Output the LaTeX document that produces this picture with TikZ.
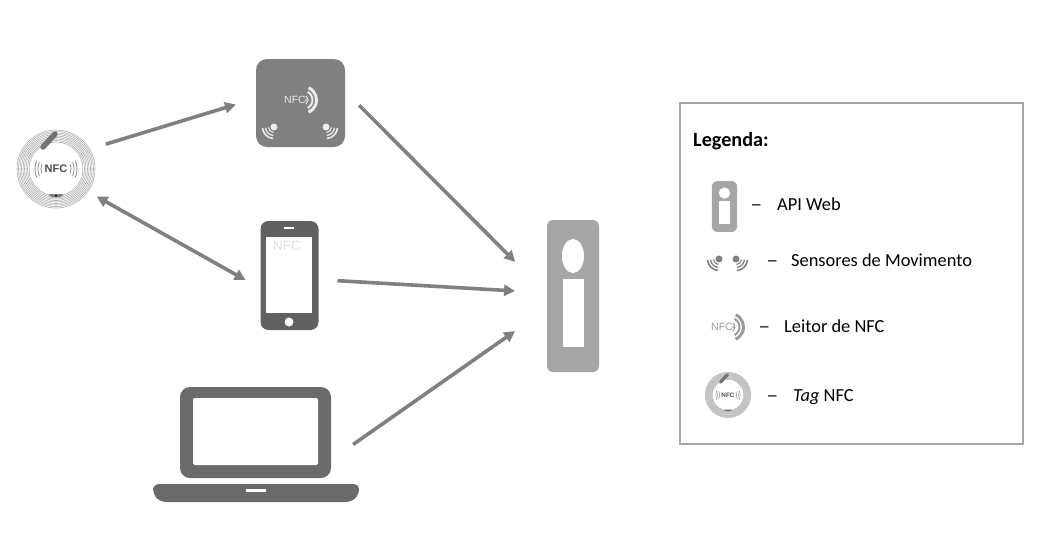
\documentclass[tikz,border=0pt]{standalone}
\usepackage{fontspec}
\setmainfont{Carlito}
\newfontfamily\iconfont{Liberation Sans}
\usetikzlibrary{arrows.meta}
\tikzset{
	pics/sensorwave/.style={code={
		\fill[#1] (0,0) circle[radius=3.5];
		\foreach \r/\w in {5.5/1.1,8.5/1.3,11.5/1.6}
			\draw[#1,line width=\w pt] (95:\r) arc (95:175:\r);
	}},
	pics/nfcreader/.style={code={
		\node[font=\iconfont\fontsize{10.5}{11}\selectfont,text=#1,inner sep=0pt,transform shape] (-word) at (-8,0) {NFC};
		\fill[#1] (3,0) circle[radius=1];
		\foreach \r/\w/\a in {5/1/55,9.5/2/60,13.5/3/65}
			\draw[#1,line width=\w pt] (-\a:\r) arc (-\a:\a:\r);
	}},
	pics/nfctag/.style={code={
		\pgfmathsetmacro{\ringshade}{(1-#1)*30}
		\draw[black!\ringshade,line width=#1*12.6pt] (0,0) circle[radius=33.3];
		\foreach \r in {27,28.5,...,39.6}
			\draw[black!32,line width=#1*0.6pt] (0,0) circle[radius=\r];
		\draw[black!55,line width=#1*5.5pt,line cap=round] (-13,-22) -- (-1,-35);
		\fill[black!50] (-7.5,25) -- (7.5,25) -- (5,28) -- (-5,28) -- cycle;
		\fill[black] (0,26.5) circle[radius=1];
		\node[font=\iconfont\bfseries\fontsize{11}{11}\selectfont,text=black!70,inner sep=0pt,transform shape] (-word) at (0,0) {NFC};
		\foreach \r/\a in {15/18,18/22,21/24} {
			\draw[black!45,line width=#1*0.8pt] (-\a:\r) arc (-\a:\a:\r);
			\draw[black!45,line width=#1*0.8pt] (180-\a:\r) arc (180-\a:180+\a:\r);
		}
	}},
	pics/apikey/.style={code={
		\fill[black!35,rounded corners=6pt] (-26,-76) rectangle (26,76);
		\fill[white] (0,-40) ellipse[x radius=11,y radius=17];
		\fill[white] (-10.5,-17) rectangle (10.5,51);
	}}
}
\begin{document}
\begin{tikzpicture}[x=1pt,y=-1pt]
\tikzstyle{linkarrow}=[draw=black!50,line width=3.6pt,-{Triangle[length=11pt,width=11pt]}]
\tikzstyle{bothways}=[draw=black!50,line width=3.6pt,{Triangle[length=11pt,width=11pt]}-{Triangle[length=11pt,width=11pt]}]
\tikzstyle{iconbox}=[rectangle,inner sep=0pt,outer sep=0pt]
\tikzstyle{legendtext}=[anchor=west,inner sep=0pt,text height=12pt,text depth=4pt,font=\fontsize{18.4}{20}\selectfont]
\tikzstyle{dashmark}=[legendtext,xscale=1.3,transform shape]
\useasboundingbox (0,0) rectangle (1060,544);

\node[iconbox,circle,minimum size=82pt] (tag) at (56,169) {};
\node[iconbox,fill=black!50,rounded corners=11pt,minimum width=89pt,minimum height=88pt] (reader) at (300.5,103) {};
\node[iconbox,fill=black!62,rounded corners=8pt,minimum width=58pt,minimum height=109pt] (phone) at (289.5,275.5) {};
\node[iconbox,fill=black!58,rounded corners=10pt,minimum width=151pt,minimum height=91pt] (laptop) at (255.5,432.5) {};
\node[iconbox,minimum width=52pt,minimum height=152pt] (api) at (573,296) {};

\pic at (tag) {nfctag=1};
\pic at (303,100) {nfcreader=black!8};
\pic at (274,127) {sensorwave=black!8};
\pic[xscale=-1] at (326,127) {sensorwave=black!8};
\fill[white] (266,237) rectangle (312,313);
\draw[white,line width=1.5pt] (284,228) -- (294,228);
\fill[white] (289,322) circle[radius=4.5];
\node[iconbox,font=\iconfont\fontsize{13.5}{14}\selectfont,text=black!12] (phoneword) at (287,246) {NFC};
\fill[white,rounded corners=2pt] (193,398) rectangle (318,465);
\fill[black!58,rounded corners=5pt] (153,484) -- (359,484) -- (359,494) [rounded corners=6pt] -- (352,502) -- (160,502) -- (153,494) -- cycle;
\fill[white] (246,489) rectangle (266,491.5);
\pic at (api) {apikey};

\draw[linkarrow,shorten <=15pt,shorten >=21pt] (tag.30) -- (reader.174);
\draw[bothways,shorten <=8pt,shorten >=17pt] (tag.325) -- (phone.204);
\draw[linkarrow,shorten <=20pt,shorten >=45pt] (reader.15) -- (api.175);
\draw[linkarrow,shorten <=19pt,shorten >=32pt] (phone.352) -- (api.173);
\draw[linkarrow,shorten <=27pt,shorten >=39pt] (laptop.340) -- (api.206);

\node[draw=black!35,line width=1.5pt,rectangle,inner sep=0pt,minimum width=343pt,minimum height=341pt] (legendbox) at (851.5,273.5) {};
\node[legendtext,font=\bfseries\fontsize{20.2}{20}\selectfont] (legendtitle) at (693,142) {Legenda:};

\pic[xscale=0.49,yscale=0.335] at (724.5,206.5) {apikey};
\node[dashmark] (dashapi) at (750,206) {--};
\node[legendtext] (apilabel) at (777,206) {API Web};

\pic at (719,259) {sensorwave=black!50};
\pic[xscale=-1] at (736,259) {sensorwave=black!50};
\node[dashmark] (dashsensor) at (766,262) {--};
\node[legendtext] (sensorlabel) at (791,262) {Sensores de Movimento};

\pic at (730,327) {nfcreader=black!40};
\node[dashmark] (dashreader) at (758,328) {--};
\node[legendtext] (readerlabel) at (784,328) {Leitor de NFC};

\pic[scale=0.58] at (728,395) {nfctag=0.58};
\node[dashmark] (dashtag) at (766,397) {--};
\node[legendtext] (taglabel) at (793,397) {\textit{Tag} NFC};
\end{tikzpicture}
\end{document}
